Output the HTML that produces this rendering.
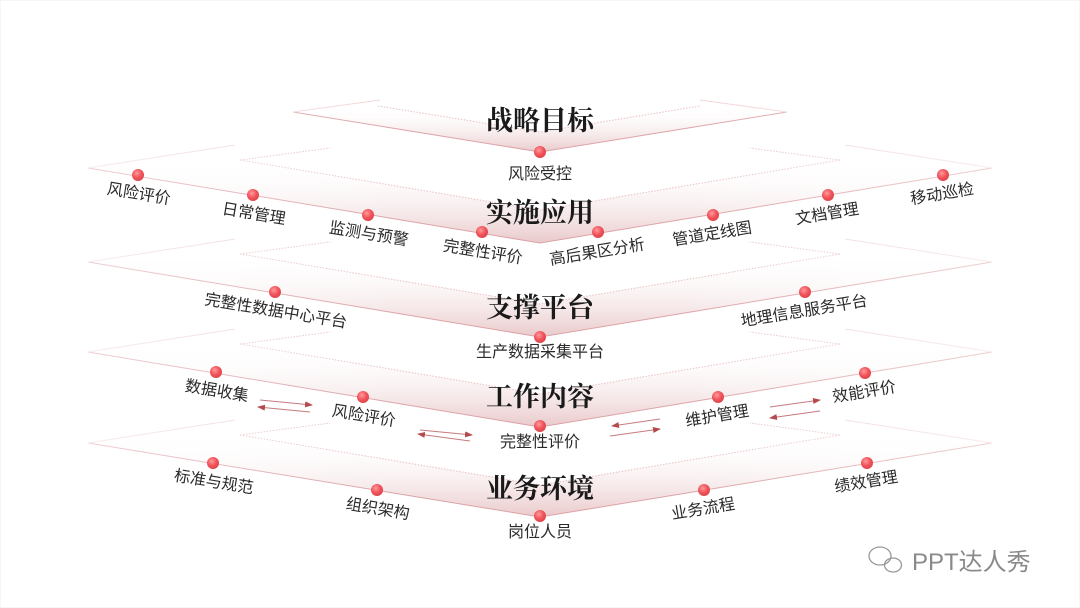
<!DOCTYPE html>
<html><head><meta charset="utf-8"><style>
html,body{margin:0;padding:0;background:#fff;}
svg{display:block}
.t{font-family:"Liberation Serif","Noto Serif CJK SC",serif;font-weight:bold;font-size:27px;fill:#1a1a1a;text-anchor:middle}
.l{font-family:"Liberation Sans","Noto Sans CJK SC",sans-serif;font-size:16px;fill:#2a2a2a;text-anchor:middle}
</style></head><body>
<svg width="1080" height="608" viewBox="0 0 1080 608" xmlns="http://www.w3.org/2000/svg">
<defs>
<linearGradient id="fg" x1="0" y1="0" x2="0" y2="1">
<stop offset="0" stop-color="#fff" stop-opacity="0"/>
<stop offset="1" stop-color="#e7c3c5" stop-opacity="0.9"/>
</linearGradient>
<linearGradient id="hg" x1="0" y1="0" x2="1" y2="0">
<stop offset="0" stop-color="#fff"/>
<stop offset="0.35" stop-color="#fff" stop-opacity="0"/>
<stop offset="0.65" stop-color="#fff" stop-opacity="0"/>
<stop offset="1" stop-color="#fff"/>
</linearGradient>
<radialGradient id="dot" cx="0.4" cy="0.35" r="0.65">
<stop offset="0" stop-color="#ff9a9c"/>
<stop offset="0.6" stop-color="#f0535a"/>
<stop offset="1" stop-color="#e0454c"/>
</radialGradient>
<marker id="ar" markerWidth="8" markerHeight="6" refX="7" refY="3" orient="auto"><path d="M0,0L8,3L0,6z" fill="#b54a4e"/></marker>
</defs>
<rect x="0" y="0" width="1080" height="608" fill="#fff" stroke="#eee"/>

<g>
<path d="M293,112 L540,152 L787,112 L700,106 L540,132 L378,106 Z" fill="url(#fg)"/>
<path d="M293,112 L540,152 L787,112" fill="none" stroke="#dca3a6" stroke-width="1"/>
<path d="M293,112 L380,100 M787,112 L700,100" stroke="#f2d6d7" fill="none"/>
<path d="M378,106 L540,132 L700,106" stroke="#e9c0c2" stroke-dasharray="1.5 1.5" fill="none"/>
</g>
<g>
<path d="M88,168 L540,243 L992,168 L840,160 L540,210 L240,160 Z" fill="url(#fg)"/>
<path d="M88,168 L540,243 L992,168" fill="none" stroke="#dca3a6"/>
<path d="M88,168 L235,145 M992,168 L845,145" stroke="#f2d6d7" fill="none"/>
<path d="M240,160 L540,210 L840,160 M240,160 L330,148 M840,160 L750,148" stroke="#e9c0c2" stroke-dasharray="1.5 1.5" fill="none"/>

<path d="M88,262 L540,337 L992,262 L840,254 L540,304 L240,254 Z" fill="url(#fg)"/>
<path d="M88,262 L540,337 L992,262" fill="none" stroke="#dca3a6"/>
<path d="M88,262 L235,239 M992,262 L845,239" stroke="#f2d6d7" fill="none"/>
<path d="M240,254 L540,304 L840,254 M240,254 L330,242 M840,254 L750,242" stroke="#e9c0c2" stroke-dasharray="1.5 1.5" fill="none"/>

<path d="M88,352 L540,427 L992,352 L840,344 L540,394 L240,344 Z" fill="url(#fg)"/>
<path d="M88,352 L540,427 L992,352" fill="none" stroke="#dca3a6"/>
<path d="M88,352 L235,329 M992,352 L845,329" stroke="#f2d6d7" fill="none"/>
<path d="M240,344 L540,394 L840,344 M240,344 L330,332 M840,344 L750,332" stroke="#e9c0c2" stroke-dasharray="1.5 1.5" fill="none"/>

<path d="M88,443 L540,517 L992,443 L840,435 L540,485 L240,435 Z" fill="url(#fg)"/>
<path d="M88,443 L540,517 L992,443" fill="none" stroke="#dca3a6"/>
<path d="M88,443 L235,420 M992,443 L845,420" stroke="#f2d6d7" fill="none"/>
<path d="M240,435 L540,485 L840,435 M240,435 L330,423 M840,435 L750,423" stroke="#e9c0c2" stroke-dasharray="1.5 1.5" fill="none"/>
</g>
<rect x="80" y="90" width="920" height="440" fill="url(#hg)" opacity="0.5"/>

<text class="t" x="540" y="130">战略目标</text>
<text class="t" x="540" y="222">实施应用</text>
<text class="t" x="540" y="317">支撑平台</text>
<text class="t" x="540" y="406">工作内容</text>
<text class="t" x="540" y="498">业务环境</text>

<g fill="url(#dot)">
<circle cx="540" cy="152" r="6"/>
<circle cx="138" cy="175" r="6"/><circle cx="253" cy="195" r="6"/><circle cx="368" cy="215" r="6"/><circle cx="482" cy="232" r="6"/>
<circle cx="598" cy="232" r="6"/><circle cx="713" cy="215" r="6"/><circle cx="828" cy="195" r="6"/><circle cx="943" cy="175" r="6"/>
<circle cx="275" cy="292" r="6"/><circle cx="540" cy="337" r="6"/><circle cx="805" cy="292" r="6"/>
<circle cx="216" cy="372" r="6"/><circle cx="363" cy="397" r="6"/><circle cx="540" cy="426" r="6"/><circle cx="718" cy="397" r="6"/><circle cx="865" cy="373" r="6"/>
<circle cx="213" cy="463" r="6"/><circle cx="377" cy="490" r="6"/><circle cx="540" cy="516" r="6"/><circle cx="704" cy="490" r="6"/><circle cx="867" cy="463" r="6"/>
</g>

<text class="l" x="540" y="179">风险受控</text>
<text class="l" transform="translate(138,199) rotate(9.4)">风险评价</text>
<text class="l" transform="translate(253,219) rotate(9.4)">日常管理</text>
<text class="l" transform="translate(368,239) rotate(9.4)">监测与预警</text>
<text class="l" transform="translate(482,257) rotate(9.4)">完整性评价</text>
<text class="l" transform="translate(598,257) rotate(-9.4)">高后果区分析</text>
<text class="l" transform="translate(713,239) rotate(-9.4)">管道定线图</text>
<text class="l" transform="translate(828,219) rotate(-9.4)">文档管理</text>
<text class="l" transform="translate(943,199) rotate(-9.4)">移动巡检</text>
<text class="l" transform="translate(275,316) rotate(9.4)">完整性数据中心平台</text>
<text class="l" x="540" y="357">生产数据采集平台</text>
<text class="l" transform="translate(805,316) rotate(-9.4)">地理信息服务平台</text>
<text class="l" transform="translate(216,396) rotate(9.4)">数据收集</text>
<text class="l" transform="translate(363,421) rotate(9.4)">风险评价</text>
<text class="l" x="540" y="447">完整性评价</text>
<text class="l" transform="translate(718,421) rotate(-9.4)">维护管理</text>
<text class="l" transform="translate(865,397) rotate(-9.4)">效能评价</text>
<text class="l" transform="translate(213,487) rotate(9.4)">标准与规范</text>
<text class="l" transform="translate(377,514) rotate(9.4)">组织架构</text>
<text class="l" x="540" y="537">岗位人员</text>
<text class="l" transform="translate(704,514) rotate(-9.4)">业务流程</text>
<text class="l" transform="translate(867,487) rotate(-9.4)">绩效管理</text>

<g stroke="#c77a7d" stroke-width="1" fill="none">
<path d="M260,400 L312,405" marker-end="url(#ar)"/>
<path d="M310,412 L258,407" marker-end="url(#ar)"/>
<path d="M420,430 L472,435" marker-end="url(#ar)"/>
<path d="M470,441 L418,434" marker-end="url(#ar)"/>
<path d="M610,436 L660,429" marker-end="url(#ar)"/>
<path d="M660,419 L612,426" marker-end="url(#ar)"/>
<path d="M770,407 L820,400" marker-end="url(#ar)"/>
<path d="M820,411 L770,418" marker-end="url(#ar)"/>
</g>

<g fill="none" stroke="#999" stroke-width="1.3">
<ellipse cx="880" cy="556" rx="11" ry="9"/>
<ellipse cx="893" cy="565" rx="8.5" ry="7"/>
</g>
<text x="912" y="570" font-family="Liberation Sans,'Noto Sans CJK SC',sans-serif" font-size="24" fill="#8a8a8a">PPT达人秀</text>
</svg>
</body></html>
